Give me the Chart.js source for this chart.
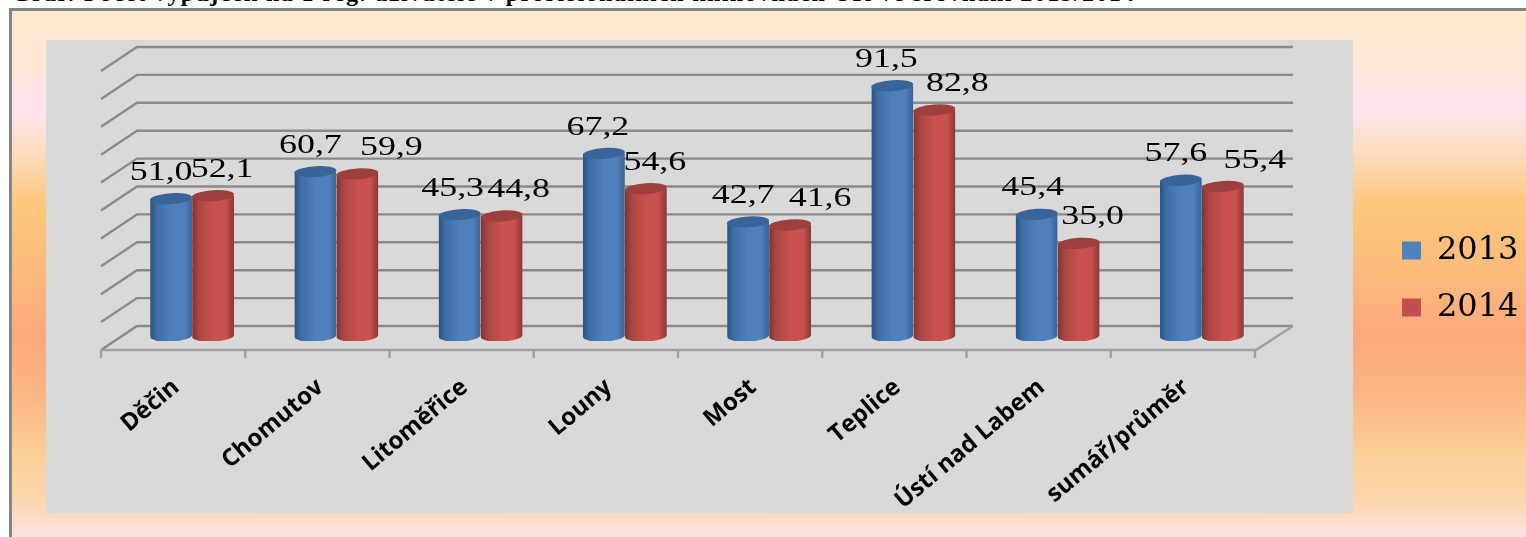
<!DOCTYPE html>
<html lang="cs">
<head>
<meta charset="utf-8">
<title>Graf</title>
<script src="https://cdn.jsdelivr.net/npm/chart.js@4"></script>
<style>
html,body{margin:0;padding:0;background:#fff;width:1526px;height:537px;overflow:hidden}
#cap{position:absolute;left:12px;top:-20px;white-space:nowrap;font:bold 24px "Liberation Serif",serif;color:#000;letter-spacing:1.4px}
#frame{position:absolute;left:9px;top:8px;width:1530px;height:540px;border:3px solid #858585;box-sizing:border-box;
background:linear-gradient(180deg,#fce9cd 0,#fce7d4 55px,#fde3ee 90px,#fde3e8 105px,#fcdcc0 140px,#fdc77c 195px,#fcbb7c 260px,#fca97c 322px,#fbb583 380px,#fbcf98 445px,#fbd6ad 490px,#fddfd8 518px,#fde3e4 540px)}
canvas{position:absolute;left:0;top:0}
</style>
</head>
<body>
<div id="cap">Graf: Počet výpůjček na 1 reg. uživatele v profesionálních knihovnách ÚK ve srovnání 2013/2014</div>
<div id="frame"></div>
<canvas id="c" width="1526" height="537"></canvas>
<script>
const categories = ["Děčin","Chomutov","Litoměřice","Louny","Most","Teplice","Ústí nad Labem","sumář/průměr"];
const values2013 = [51.0,60.7,45.3,67.2,42.7,91.5,45.4,57.6];
const values2014 = [52.1,59.9,44.8,54.6,41.6,82.8,35.0,55.4];
const seriesNames = ["2013","2014"];

const shades = [
  {edge:"#2b5280",inner:"#3f6da4",mid:"#4f81bd",right:"#3a6597",top:"#38649a"},
  {edge:"#7d3331",inner:"#a84543",mid:"#c9524f",right:"#8a3836",top:"#9c3f3d"}
];
const labelShiftX = [
  [-10,-5,-7,-6,-5,-6,-4,-5],
  [9,34,17,9,30,23,14,32]
];

const decor = {
  id:"decor",
  afterLayout(chart){
    const l = chart.legend;
    l.left = 1377; l.right = 1526;
    chart.scales.x.bottom = 537;
  },
  beforeDraw(chart){
    const {ctx} = chart;
    ctx.save();
    ctx.fillStyle = "#d9d9d9";
    ctx.fillRect(46,40,1307,473);
    ctx.restore();
  },
  beforeDatasetsDraw(chart){
    const {ctx,scales:{x,y}} = chart;
    const bx = 17, by = -15, fx = -19, fy = 9;
    ctx.save();
    ctx.strokeStyle = "#8a8a8a";
    ctx.lineWidth = 2.4;
    y.ticks.forEach(t=>{
      const py = y.getPixelForValue(t.value);
      ctx.beginPath();
      ctx.moveTo(x.left+fx,py+fy);
      ctx.lineTo(x.left+bx,py+by);
      ctx.lineTo(x.right+fx+38,py+by);
      ctx.stroke();
    });
    const y0 = y.getPixelForValue(0);
    ctx.strokeStyle = "#a0a0a0";
    ctx.beginPath();
    ctx.moveTo(x.left+fx,y0+fy);
    ctx.lineTo(x.right+fx+1,y0+fy);
    ctx.lineTo(x.right+fx+38,y0+by);
    ctx.stroke();
    const step = (x.right-x.left)/categories.length;
    for(let i=0;i<=categories.length;i++){
      const tx = (i<categories.length ? x.getPixelForTick(i)-step/2 : x.right)+fx;
      ctx.beginPath();
      ctx.moveTo(tx,y0+fy);
      ctx.lineTo(tx,y0+fy+8);
      ctx.stroke();
    }
    ctx.restore();
    chart.data.datasets.forEach((ds,di)=>{
      const s = shades[di];
      chart.getDatasetMeta(di).data.forEach(el=>{
        const l = el.x-el.width/2, r = el.x+el.width/2;
        const g = ctx.createLinearGradient(l,0,r,0);
        g.addColorStop(0,s.edge);
        g.addColorStop(.16,s.inner);
        g.addColorStop(.5,s.mid);
        g.addColorStop(.8,s.mid);
        g.addColorStop(1,s.right);
        el.options = Object.assign({},el.options,{backgroundColor:g});
      });
    });
  },
  beforeDatasetDraw(chart,args){
    const {ctx} = chart;
    const els = chart.getDatasetMeta(args.index).data;
    ctx.save();
    ctx.beginPath();
    els.forEach(el=>{
      const l = el.x-el.width/2;
      ctx.rect(l,0,el.width,el.base-5);
      ctx.moveTo(el.x+el.width/2,el.base-5);
      ctx.ellipse(el.x,el.base-5,el.width/2,5.5,-0.05,0,Math.PI*2);
    });
    ctx.clip();
  },
  afterDatasetDraw(chart,args){
    const {ctx} = chart;
    ctx.restore();
    const els = chart.getDatasetMeta(args.index).data;
    ctx.save();
    ctx.fillStyle = shades[args.index].top;
    els.forEach(el=>{
      ctx.beginPath();
      ctx.ellipse(el.x,el.y,el.width/2,5.5,-0.07,0,Math.PI*2);
      ctx.fill();
    });
    ctx.restore();
  },
  afterDatasetsDraw(chart){
    const {ctx} = chart;
    ctx.save();
    ctx.fillStyle = "#000";
    ctx.font = '27px "Liberation Serif",serif';
    ctx.textAlign = "center";
    ctx.textBaseline = "middle";
    chart.data.datasets.forEach((ds,di)=>{
      chart.getDatasetMeta(di).data.forEach((el,i)=>{
        ctx.save();
        ctx.translate(el.x+labelShiftX[di][i],el.y-26);
        ctx.scale(1.33,1);
        ctx.fillText(ds.data[i].toFixed(1).replace(".",","),0,0);
        ctx.restore();
      });
    });
    ctx.restore();
  }
};

new Chart(document.getElementById("c"),{
  type:"bar",
  data:{
    labels:categories,
    datasets:[
      {label:seriesNames[0],data:values2013,backgroundColor:()=>"#4f81bd"},
      {label:seriesNames[1],data:values2014,backgroundColor:()=>"#c0504d"}
    ]
  },
  plugins:[decor],
  options:{
    responsive:false,
    animation:false,
    events:[],
    layout:{padding:{left:112,right:102,top:62,bottom:41}},
    datasets:{bar:{categoryPercentage:0.582,barPercentage:1,borderWidth:0}},
    scales:{
      x:{
        grid:{display:false},
        border:{display:false},
        afterFit(s){s.height=155;},
        ticks:{autoSkip:false,minRotation:40,maxRotation:40,padding:24,labelOffset:-16,color:"#000",
          font:{family:'"Open Sans"',size:24,weight:"700"}}
      },
      y:{
        min:0,max:100,
        grid:{display:false},
        border:{display:false},
        ticks:{display:false,stepSize:10}
      }
    },
    plugins:{
      tooltip:{enabled:false},
      title:{display:false},
      legend:{
        position:"right",
        maxWidth:150,
        labels:{boxWidth:19,boxHeight:18,padding:25,color:"#000",
          font:{family:'"DejaVu Serif"',size:32}}
      }
    }
  }
});
</script>
</body>
</html>
